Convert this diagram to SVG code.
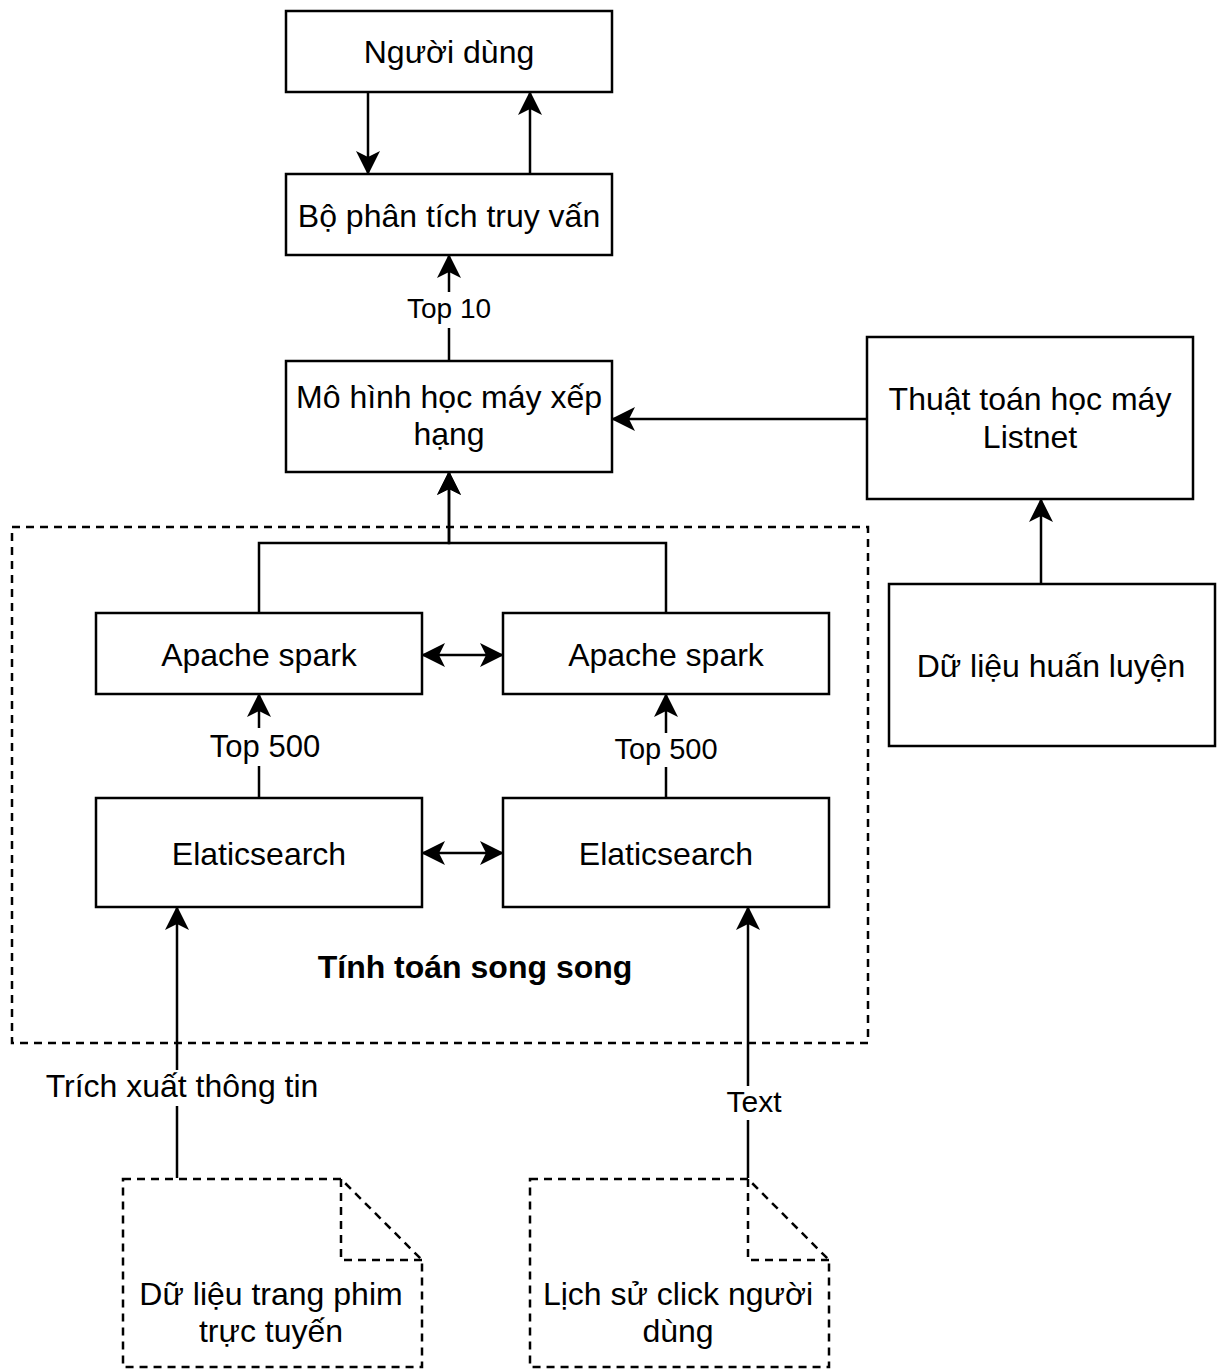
<svg xmlns="http://www.w3.org/2000/svg" width="1224" height="1369" viewBox="0 0 1224 1369">
<style>
.box{fill:#fff;stroke:#000;stroke-width:2.5}
.dash{fill:none;stroke:#000;stroke-width:2.5;stroke-dasharray:8 6}
.doc{fill:#fff;stroke:#000;stroke-width:2.5;stroke-dasharray:8 6}
.edge{fill:none;stroke:#000;stroke-width:2.5}
.arr{marker-end:url(#ah)}
.both{marker-start:url(#ah);marker-end:url(#ah)}
text{font-family:"Liberation Sans",Arial,Helvetica,sans-serif;font-size:32px;fill:#000;text-anchor:middle}
.lbl{font-size:30px}
.bg{fill:#fff;stroke:none}
</style>
<defs>
<marker id="ah" markerUnits="userSpaceOnUse" markerWidth="24" markerHeight="24" viewBox="0 0 24 24" refX="23" refY="12" orient="auto-start-reverse">
<path d="M0,0 L24,12 L0,24 L6,12 Z" fill="#000"/>
</marker>
</defs>
<rect width="1224" height="1369" fill="#fff"/>

<g id="group-parallel">
<rect class="dash" x="12" y="527" width="856" height="516"/>
<text x="475" y="978" font-weight="bold">Tính toán song song</text>
</g>

<g id="connectors">
<path class="edge arr" d="M368,92 L368,174"/>
<path class="edge arr" d="M530,174 L530,92"/>
<path class="edge arr" d="M449,361 L449,255"/>
<path class="edge arr" d="M867,419 L612,419"/>
<path class="edge arr" d="M1041,584 L1041,499"/>
<path class="edge arr" d="M259,613 L259,543 L449,543 L449,472"/>
<path class="edge arr" d="M666,613 L666,543 L449,543 L449,472"/>
<path class="edge both" d="M422,655 L503,655"/>
<path class="edge both" d="M422,853 L503,853"/>
<path class="edge arr" d="M259,798 L259,694"/>
<path class="edge arr" d="M666,798 L666,694"/>
<path class="edge arr" d="M177,1178 L177,907"/>
<path class="edge arr" d="M748,1178 L748,907"/>
<rect class="bg" x="403" y="292" width="92" height="36"/>
<text x="449" y="318" style="font-size:28px">Top 10</text>
<rect class="bg" x="206" y="728" width="117" height="38"/>
<text x="265" y="757" style="font-size:31px">Top 500</text>
<rect class="bg" x="612" y="733" width="109" height="34"/>
<text x="666" y="759" style="font-size:29px">Top 500</text>
<rect class="bg" x="43" y="1070" width="280" height="36"/>
<text x="182" y="1097">Trích xuất thông tin</text>
<rect class="bg" x="723" y="1086" width="63" height="34"/>
<text x="754" y="1112" class="lbl">Text</text>
</g>

<g id="node-nguoi-dung">
<rect class="box" x="286" y="11" width="326" height="81"/>
<text x="449" y="63">Người dùng</text>
</g>
<g id="node-bo-phan-tich">
<rect class="box" x="286" y="174" width="326" height="81"/>
<text x="449" y="227">Bộ phân tích truy vấn</text>
</g>
<g id="node-mo-hinh">
<rect class="box" x="286" y="361" width="326" height="111"/>
<text x="449" y="408">Mô hình học máy xếp</text>
<text x="449" y="445">hạng</text>
</g>
<g id="node-thuat-toan">
<rect class="box" x="867" y="337" width="326" height="162"/>
<text x="1030" y="410">Thuật toán học máy</text>
<text x="1030" y="448">Listnet</text>
</g>
<g id="node-du-lieu-huan-luyen">
<rect class="box" x="889" y="584" width="326" height="162"/>
<text x="1051" y="677">Dữ liệu huấn luyện</text>
</g>
<g id="node-spark-1">
<rect class="box" x="96" y="613" width="326" height="81"/>
<text x="259" y="666">Apache spark</text>
</g>
<g id="node-spark-2">
<rect class="box" x="503" y="613" width="326" height="81"/>
<text x="666" y="666">Apache spark</text>
</g>
<g id="node-elastic-1">
<rect class="box" x="96" y="798" width="326" height="109"/>
<text x="259" y="865">Elaticsearch</text>
</g>
<g id="node-elastic-2">
<rect class="box" x="503" y="798" width="326" height="109"/>
<text x="666" y="865">Elaticsearch</text>
</g>
<g id="node-doc-phim">
<path class="doc" d="M123,1179 L341,1179 L422,1260 L422,1367 L123,1367 Z"/>
<path class="dash" d="M341,1179 L341,1260 L422,1260"/>
<text x="271" y="1305">Dữ liệu trang phim</text>
<text x="271" y="1342">trực tuyến</text>
</g>
<g id="node-doc-click">
<path class="doc" d="M530,1179 L748,1179 L829,1260 L829,1367 L530,1367 Z"/>
<path class="dash" d="M748,1179 L748,1260 L829,1260"/>
<text x="678" y="1305">Lịch sử click người</text>
<text x="678" y="1342">dùng</text>
</g>
</svg>
